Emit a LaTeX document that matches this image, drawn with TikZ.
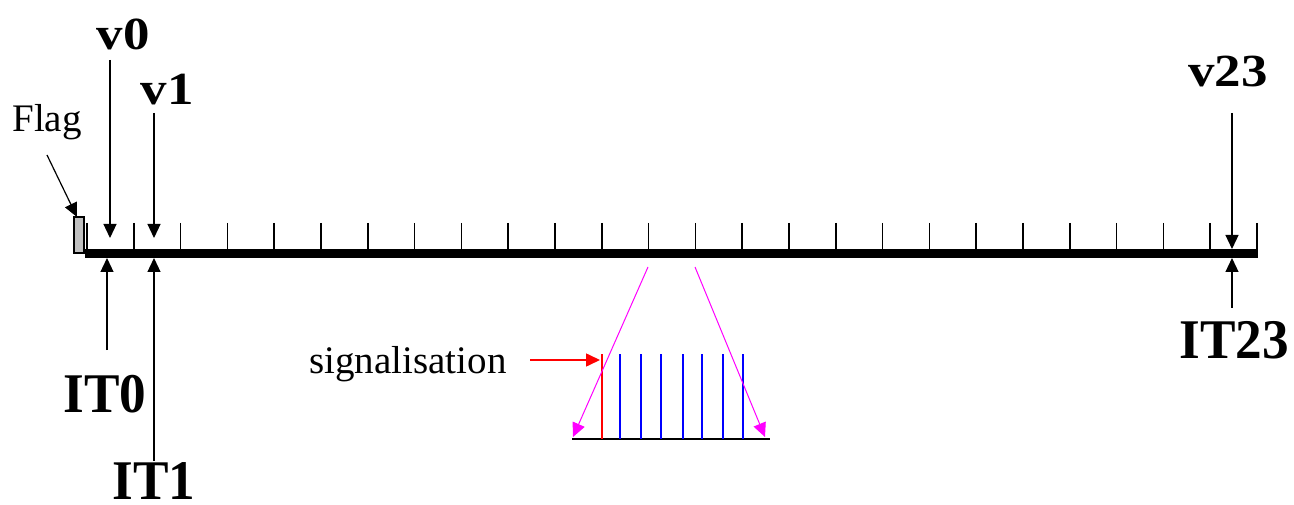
\documentclass[tikz,border=0pt]{standalone}
\usepackage{fontspec}
\setmainfont{Liberation Serif}
\newfontfamily\vfont[FakeStretch=1.15]{Liberation Serif}
\newfontfamily\itfont[FakeStretch=0.95]{Liberation Serif}
\usetikzlibrary{arrows.meta}
\definecolor{flaggray}{RGB}{192,192,192}
\definecolor{pmag}{RGB}{255,0,255}
\definecolor{pred}{RGB}{255,0,0}
\definecolor{pblue}{RGB}{0,0,255}
\tikzset{
  arr/.style={line width=1.2pt,-{Triangle[length=14pt,width=13pt]}},
  marr/.style={line width=1pt,draw=pmag,-{Triangle[length=14pt,width=13pt]},pmag},
  rarr/.style={line width=1.6pt,draw=pred,-{Triangle[length=14pt,width=13pt]},pred},
  vlab/.style={anchor=base,inner sep=0pt,font=\vfont\bfseries\fontsize{46}{46}\selectfont},
  itlab/.style={anchor=base,inner sep=0pt,font=\itfont\bfseries\fontsize{56}{56}\selectfont},
  plain/.style={anchor=base,inner sep=0pt,font=\fontsize{39}{39}\selectfont},
  tick/.style={line width=1.6pt},
  bar/.style={line width=9.5pt},
  pulse/.style={line width=2pt}
}
\begin{document}
\begin{tikzpicture}[x=1pt,y=-1pt]
\useasboundingbox (0,0) rectangle (1294,505);
% main bar and ticks
\draw[bar] (85,253.5) -- (1258,253.5);
\foreach \i in {0,...,25}
  \draw[tick] ({87+46.8*\i},223) -- ({87+46.8*\i},249);
% flag
\node[draw=black,line width=1.2pt,fill=flaggray,minimum width=10pt,minimum height=36pt,inner sep=0pt] (flagbox) at (79,235) {};
\node[plain] (flag) at (47,132) {Flag};
\coordinate (flags) at (47,155);
\coordinate (flage) at (77,217);
\draw[arr] (flags) -- (flage);
% v labels
\node[vlab] (v0) at (123,50) {v0};
\node[vlab] (v1) at (167,105) {v1};
\node[vlab] (v23) at (1228,87) {v23};
\coordinate (v0s) at (110,60);  \coordinate (v0e) at (110,238);
\coordinate (v1s) at (154,113); \coordinate (v1e) at (154,238);
\coordinate (v23s) at (1232,113); \coordinate (v23e) at (1232,249);
\draw[arr] (v0s) -- (v0e);
\draw[arr] (v1s) -- (v1e);
\draw[arr] (v23s) -- (v23e);
% IT labels
\node[itlab] (it0) at (105,412) {IT0};
\node[itlab] (it1) at (154,499) {IT1};
\node[itlab] (it23) at (1234,358) {IT23};
\coordinate (it0s) at (107,350);  \coordinate (it0e) at (107,258);
\coordinate (it1s) at (154,461);  \coordinate (it1e) at (154,258);
\coordinate (it23s) at (1232,308); \coordinate (it23e) at (1232,258);
\draw[arr] (it0s) -- (it0e);
\draw[arr] (it1s) -- (it1e);
\draw[arr] (it23s) -- (it23e);
% zoom detail
\coordinate (bl) at (572,439);
\coordinate (br) at (770,439);
\draw[line width=1.5pt] (bl) -- (br);
\draw[pulse,pred] (602,354) -- (602,439);
\foreach \x in {620,641,661,683,702,723,743}
  \draw[pulse,pblue] (\x,354) -- (\x,439);
\node[plain] (sig) at (408,373) {signalisation};
\coordinate (sigs) at (530,360);
\coordinate (sige) at (600,360);
\draw[rarr] (sigs) -- (sige);
\coordinate (ml1) at (648,267); \coordinate (ml2) at (573,437);
\coordinate (mr1) at (695,267); \coordinate (mr2) at (765,437);
\draw[marr] (ml1) -- (ml2);
\draw[marr] (mr1) -- (mr2);
\end{tikzpicture}
\end{document}
